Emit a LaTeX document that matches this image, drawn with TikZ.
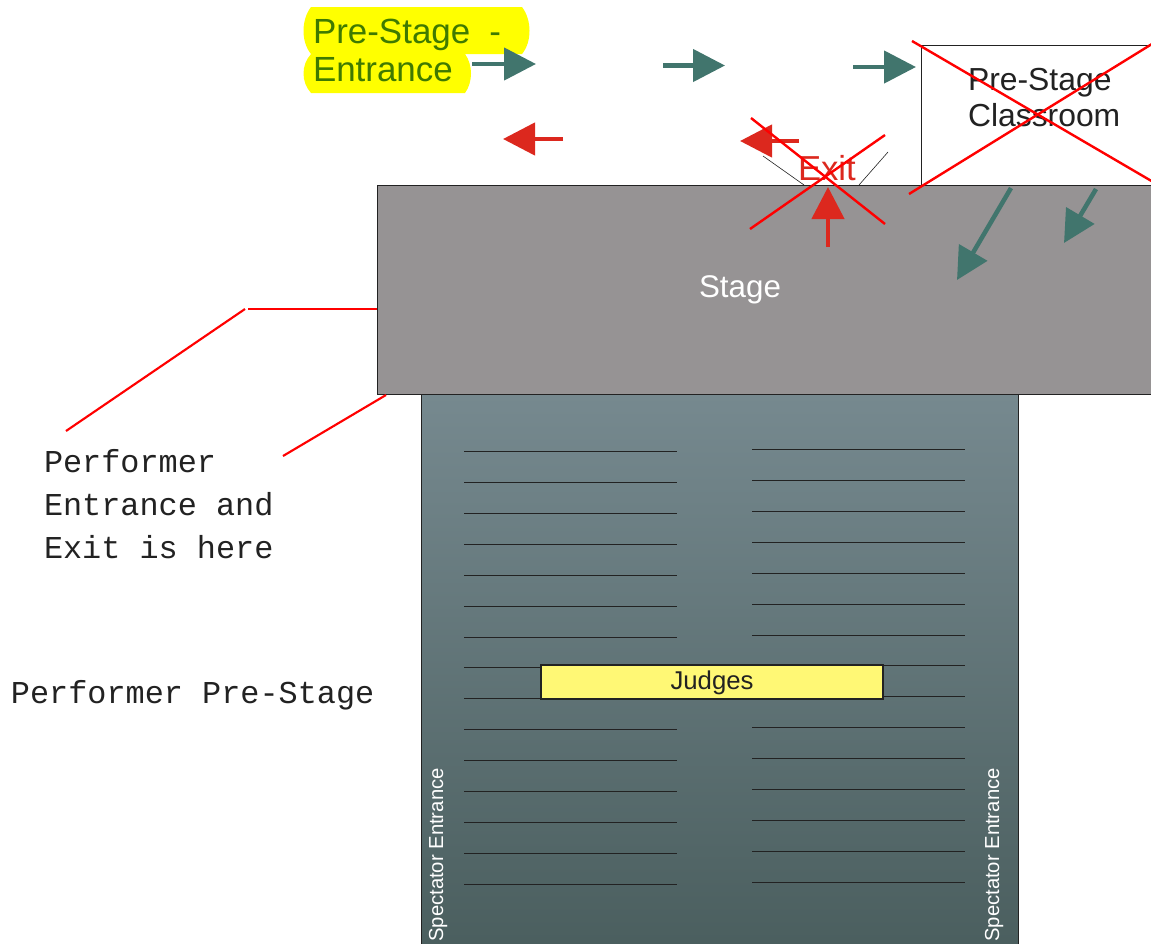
\documentclass[tikz,border=0pt]{standalone}
\usepackage{fontspec}
\setmainfont{Liberation Sans}
\newfontfamily\monofam{Liberation Mono}
\usetikzlibrary{arrows.meta}
\definecolor{teal1}{HTML}{41756D}
\definecolor{red1}{HTML}{DC281E}
\definecolor{pureRed}{HTML}{FF0000}
\definecolor{pureYellow}{HTML}{FFFF00}
\definecolor{stagegrey}{HTML}{969394}
\definecolor{hallTop}{HTML}{76898F}
\definecolor{hallBot}{HTML}{4A5E5E}
\definecolor{judgeY}{HTML}{FFF875}
\definecolor{preGreen}{HTML}{3F7A00}
\definecolor{ink}{HTML}{222222}
\tikzset{
  x=0.75pt,y=-0.75pt,
  txt/.style={inner sep=0pt,outer sep=0pt,anchor=base west,align=left},
  tealarrow/.style={draw=teal1,line width=3.4pt,-{Triangle[length=24pt,width=24pt,fill=teal1]}},
  redarrow/.style={draw=red1,line width=3.4pt,-{Triangle[length=24pt,width=24pt,fill=red1]}},
  cross/.style={draw=pureRed,line width=1.8pt},
  leader/.style={draw=pureRed,line width=1.6pt},
  thin line/.style={draw=ink,line width=0.45pt},
  row/.style={draw=ink,line width=0.6pt},
  plainbox/.style={draw=ink,line width=0.75pt,inner sep=0pt,outer sep=0pt,anchor=north west},
  spect/.style={inner sep=0pt,rotate=90,anchor=base east,text=white,font=\fontsize{15.2pt}{17pt}\selectfont},
  mono/.style={txt,text=ink,font=\monofam\fontsize{23.9pt}{32.2pt}\selectfont},
}
\begin{document}
\begin{tikzpicture}
\useasboundingbox (0,0) rectangle (1151,943);
\clip (0,0) rectangle (1151,943);
% highlight
\fill[pureYellow] (311,7) -- (522,7) .. controls (532,20) and (532,42) .. (522,54) -- (465,54)
  .. controls (473,65) and (473,82) .. (465,93) -- (311,93)
  .. controls (301,82) and (301,65) .. (311,54) .. controls (301,42) and (301,20) .. (311,7) -- cycle;
\node[txt,text=preGreen,font=\fontsize{26.2pt}{28.5pt}\selectfont] (pre) at (313,81) {Pre-Stage\hspace{0.55em}-\\Entrance};
% boxes
\node[plainbox,fill=white,minimum width=300*0.75pt,minimum height=140*0.75pt] (class) at (921,45) {};
\node[plainbox,fill=stagegrey,minimum width=850*0.75pt,minimum height=209*0.75pt] (stage) at (377,185) {};
\node[plainbox,top color=hallTop,bottom color=hallBot,minimum width=597*0.75pt,minimum height=560*0.75pt] (hall) at (421,394) {};
% rows
\foreach \i in {0,...,14} {
  \coordinate (la\i) at (464,451.5+30.9*\i);
  \coordinate (lb\i) at (677,451.5+30.9*\i);
  \coordinate (ra\i) at (752,449.5+30.9*\i);
  \coordinate (rb\i) at (965,449.5+30.9*\i);
  \draw[row] (la\i) -- (lb\i);
  \draw[row] (ra\i) -- (rb\i);
}
\node[plainbox,fill=judgeY,line width=2.1pt,minimum width=342*0.75pt,minimum height=34*0.75pt] (judges) at (541,665) {};
\node[txt,anchor=base,text=ink,font=\fontsize{19.3pt}{22pt}\selectfont] (judgesT) at (712,689) {Judges};
\node[txt,anchor=base,text=white,font=\fontsize{23.5pt}{26pt}\selectfont] (stageT) at (740,297) {Stage};
\node[txt,text=ink,font=\fontsize{23.9pt}{27pt}\selectfont] (classT) at (968,126) {Pre-Stage\\Classroom};
\node[txt,text=red1,font=\fontsize{26pt}{28pt}\selectfont] (exitT) at (798,180) {Exit};
\node[spect] (sp1) at (443,768) {Spectator Entrance};
\node[spect] (sp2) at (999,768) {Spectator Entrance};
\node[mono] (perf) at (44,558) {Performer\\Entrance and\\Exit is here};
\node[mono] (pps) at (11,703) {Performer Pre-Stage};
% thin lines at exit
\coordinate (t1a) at (763,156); \coordinate (t1b) at (804,185);
\coordinate (t2a) at (888,152); \coordinate (t2b) at (859,185);
\draw[thin line] (t1a) -- (t1b);
\draw[thin line] (t2a) -- (t2b);
% arrows
\coordinate (g1a) at (472,64); \coordinate (g1b) at (536,64);
\coordinate (g2a) at (663,65.5); \coordinate (g2b) at (725,65.5);
\coordinate (g3a) at (853,67); \coordinate (g3b) at (916,67);
\coordinate (g4a) at (1011,188); \coordinate (g4b) at (957,280);
\coordinate (g5a) at (1096,189); \coordinate (g5b) at (1064,243);
\draw[tealarrow] (g1a) -- (g1b);
\draw[tealarrow] (g2a) -- (g2b);
\draw[tealarrow] (g3a) -- (g3b);
\draw[tealarrow] (g4a) -- (g4b);
\draw[tealarrow] (g5a) -- (g5b);
\coordinate (r1a) at (563,139); \coordinate (r1b) at (503,139);
\coordinate (r2a) at (799,141); \coordinate (r2b) at (740,141);
\coordinate (r3a) at (828,247); \coordinate (r3b) at (828,187);
\draw[redarrow] (r1a) -- (r1b);
\draw[redarrow] (r2a) -- (r2b);
\draw[redarrow] (r3a) -- (r3b);
% crosses
\coordinate (x1a) at (912,41); \coordinate (x1b) at (1160,186);
\coordinate (x2a) at (909,194); \coordinate (x2b) at (1160,39);
\coordinate (x3a) at (751,118); \coordinate (x3b) at (885,224);
\coordinate (x4a) at (750,229); \coordinate (x4b) at (885,135);
\draw[cross] (x1a) -- (x1b);
\draw[cross] (x2a) -- (x2b);
\draw[cross] (x3a) -- (x3b);
\draw[cross] (x4a) -- (x4b);
% leaders
\coordinate (l1a) at (66,431); \coordinate (l1b) at (245,309);
\coordinate (l2a) at (248,309); \coordinate (l3a) at (283,456); \coordinate (l3b) at (386,395);
\draw[leader] (l1a) -- (l1b);
\draw[leader] (l2a) -- (stage.west |- l2a);
\draw[leader] (l3a) -- (l3b);
\end{tikzpicture}
\end{document}
